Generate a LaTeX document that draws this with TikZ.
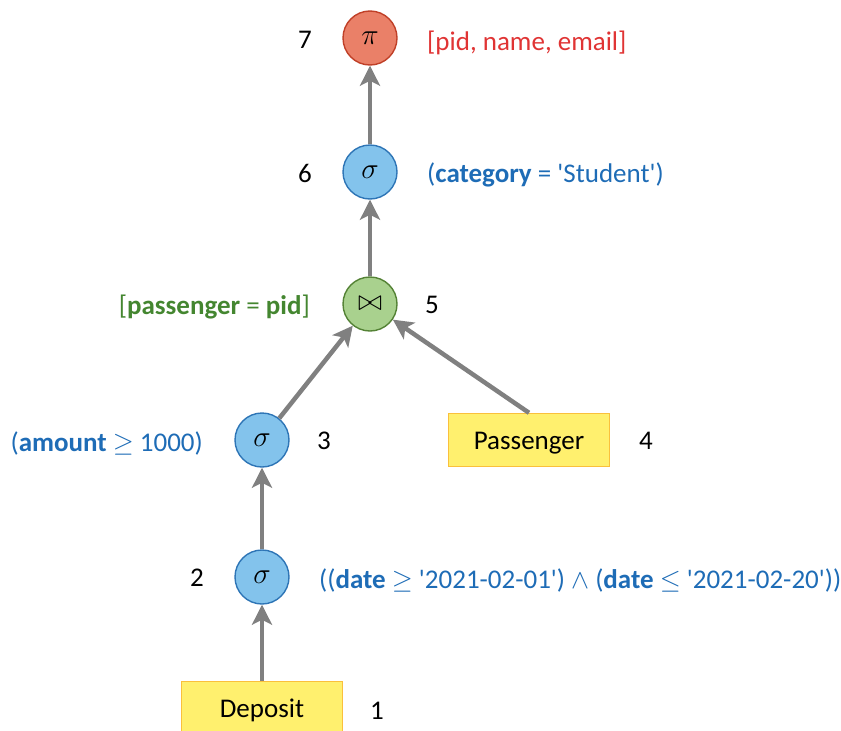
\documentclass[tikz,border=0pt]{standalone}
\usepackage{fontspec}
\setmainfont{Carlito}
\usepackage{fix-cm}
\usepackage{graphicx}
\usetikzlibrary{arrows.meta}

\definecolor{projfill}{RGB}{234,128,104}
\definecolor{projline}{RGB}{192,64,40}
\definecolor{projtext}{RGB}{224,52,52}
\definecolor{selfill}{RGB}{131,195,236}
\definecolor{selline}{RGB}{46,117,182}
\definecolor{seltext}{RGB}{30,108,182}
\definecolor{joinfill}{RGB}{169,209,142}
\definecolor{joinline}{RGB}{84,130,53}
\definecolor{jointext}{RGB}{68,134,48}
\definecolor{relfill}{RGB}{255,240,110}
\definecolor{relline}{RGB}{250,192,60}
\definecolor{edgegray}{RGB}{128,128,128}

\newcommand{\opsym}[1]{\scalebox{1.13}{$#1$}}
\newcommand{\sq}{\textquotesingle}

\tikzset{
  txt/.style={font=\fontsize{27}{32}\selectfont, inner sep=0pt},
  lbl/.style={txt, yshift=-3pt},
  opnode/.style={circle, draw, line width=1.4pt, minimum size=54pt, inner sep=0pt,
    font=\fontsize{26}{31}\selectfont},
  projop/.style={opnode, fill=projfill, draw=projline},
  selop/.style={opnode, fill=selfill, draw=selline},
  joinop/.style={opnode, fill=joinfill, draw=joinline},
  relbox/.style={rectangle, draw=relline, fill=relfill, line width=1.4pt,
    minimum width=161pt, minimum height=53pt, inner sep=0pt,
    text height=23pt, text depth=5pt, font=\fontsize{27}{32}\selectfont},
  flow/.style={draw=edgegray, line width=4.5pt,
    -{Stealth[width=20pt,length=20pt,inset=5pt]}},
}

\begin{document}
\begin{tikzpicture}[x=1pt, y=-1pt]
\useasboundingbox (0,0) rectangle (841,731);

% operators
\node[projop] (proj) at (370,38) {\opsym{\pi}};
\node[selop] (selcat) at (370,172) {\opsym{\sigma}};
\node[joinop] (join) at (370,304) {\opsym{\bowtie}};
\node[selop] (selamt) at (262,440) {\opsym{\sigma}};
\node[selop] (seldate) at (262,577) {\opsym{\sigma}};

% base relations
\node[relbox] (pass) at (529,440) {Passenger};
\node[relbox] (dep) at (262,708) {Deposit};

% step numbers
\node[txt] (n7) at (305,40) {7};
\node[txt] (n6) at (305,173) {6};
\node[txt] (n5) at (432,305) {5};
\node[txt] (n3) at (324,441) {3};
\node[txt] (n4) at (646,441) {4};
\node[txt] (n2) at (197,578) {2};
\node[txt] (n1) at (377,711) {1};

% operator parameters
\node[lbl, text=projtext, anchor=west] (l7) at (427,40) {[pid, name, email]};
\node[lbl, text=seltext, anchor=west] (l6) at (427,172) {(\textbf{category} = \sq Student\sq)};
\node[lbl, text=jointext, anchor=east] (l5) at (310,304) {[\textbf{passenger} = \textbf{pid}]};
\node[lbl, text=seltext, anchor=east] (l3) at (203,440) {(\textbf{amount} $\geq$ 1000)};
\node[lbl, text=seltext, anchor=west] (l2) at (319,577)
  {((\textbf{date} $\geq$ \sq 2021-02-01\sq) $\wedge$ (\textbf{date} $\leq$ \sq 2021-02-20\sq))};

% data flow
\draw[flow] (dep.north) -- (seldate);
\draw[flow] (seldate) -- (selamt);
\draw[flow] (selamt) -- (join);
\draw[flow] (pass.north) -- (join);
\draw[flow] (join) -- (selcat);
\draw[flow] (selcat) -- (proj);
\end{tikzpicture}
\end{document}
